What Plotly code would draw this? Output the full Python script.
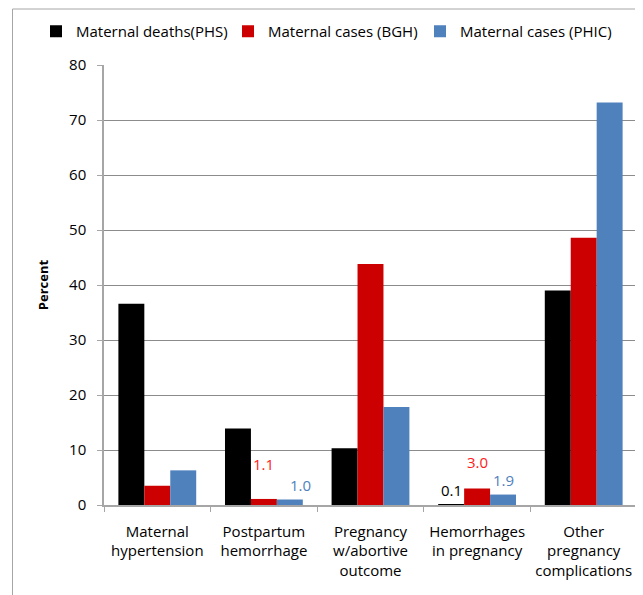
import plotly.graph_objects as go

categories = ["Maternal<br>hypertension", "Postpartum<br>hemorrhage", "Pregnancy<br>w/abortive<br>outcome",
              "Hemorrhages<br>in pregnancy", "Other<br>pregnancy<br>complications"]
deaths_phs = [36.6, 13.9, 10.3, 0.1, 39.0]
cases_bgh = [3.5, 1.1, 43.8, 3.0, 48.6]
cases_phic = [6.3, 1.0, 17.8, 1.9, 73.2]
series_names = ["Maternal deaths(PHS)", "Maternal cases (BGH)", "Maternal cases (PHIC)"]
series_colors = ["#000000", "#cc0000", "#4f81bd"]
label_colors = ["#000000", "#ff1a1a", "#4f81bd"]
y_ticks = [0, 10, 20, 30, 40, 50, 60, 70, 80]

FONT = "Open Sans"
# page has an 8px body margin, so the figure is sized/offset to compensate
W, H = 635, 587
L, R, T, B = 96, 6, 57, 90
PW, PH = W - L - R, H - T - B

fig = go.Figure()
for name, vals, col in zip(series_names, [deaths_phs, cases_bgh, cases_phic], series_colors):
    fig.add_trace(go.Bar(x=categories, y=vals, name=name, marker=dict(color=col, line=dict(width=0))))

# value labels for the small bars (series index, category index, xshift, yshift)
labels = [(1, 1, 0, 35), (2, 1, 11, 15), (0, 3, 0, 14), (1, 3, 0, 27), (2, 3, 0, 15)]
bar_off = [-26, 0, 26]
all_vals = [deaths_phs, cases_bgh, cases_phic]
for s, c, xs, ys in labels:
    v = all_vals[s][c]
    fig.add_annotation(x=categories[c], y=v, xref="x", yref="y", text=f"{v:.1f}",
                       showarrow=False, xshift=bar_off[s] + xs, yshift=ys,
                       font=dict(family=FONT, size=15, color=label_colors[s]))


def px_x(p):
    return (p - L) / PW


def px_y(p):
    return (H - B - p) / PH


# outer frame (left and top edges visible)
fig.add_shape(type="rect", xref="paper", yref="paper",
              x0=px_x(4.5), x1=px_x(700), y0=px_y(660), y1=px_y(1),
              line=dict(color="#a6a6a6", width=1), fillcolor="rgba(0,0,0,0)", layer="below")

fig.update_layout(
    width=W, height=H,
    margin=dict(l=L, r=R, t=T, b=B),
    paper_bgcolor="white", plot_bgcolor="white",
    barmode="group", bargap=0.27, bargroupgap=0,
    font=dict(family=FONT, size=15, color="#000000"),
    showlegend=True,
    legend=dict(orientation="h", x=px_x(28), y=px_y(7), xanchor="left", yanchor="top",
                font=dict(family=FONT, size=15, color="#000000"),
                itemwidth=30, entrywidth=147, entrywidthmode="pixels",
                bgcolor="rgba(0,0,0,0)", traceorder="normal"),
)
fig.update_yaxes(range=[0, 80], tickvals=y_ticks, showgrid=True, gridcolor="#8c8c8c", gridwidth=1,
                 showline=True, linecolor="#a6a6a6", linewidth=1.5,
                 ticks="outside", ticklen=5, tickcolor="#a6a6a6", ticklabelstandoff=8,
                 tickfont=dict(family=FONT, size=15, color="#000000"),
                 title=dict(text="<b>Percent</b>", font=dict(family=FONT, size=13), standoff=18),
                 zeroline=False)
fig.update_xaxes(showline=True, linecolor="#a6a6a6", linewidth=1.5,
                 ticks="outside", ticklen=5, tickcolor="#a6a6a6", tickson="boundaries",
                 ticklabelstandoff=12,
                 tickfont=dict(family=FONT, size=15, color="#000000"), showgrid=False)

fig.write_html("out.html")
